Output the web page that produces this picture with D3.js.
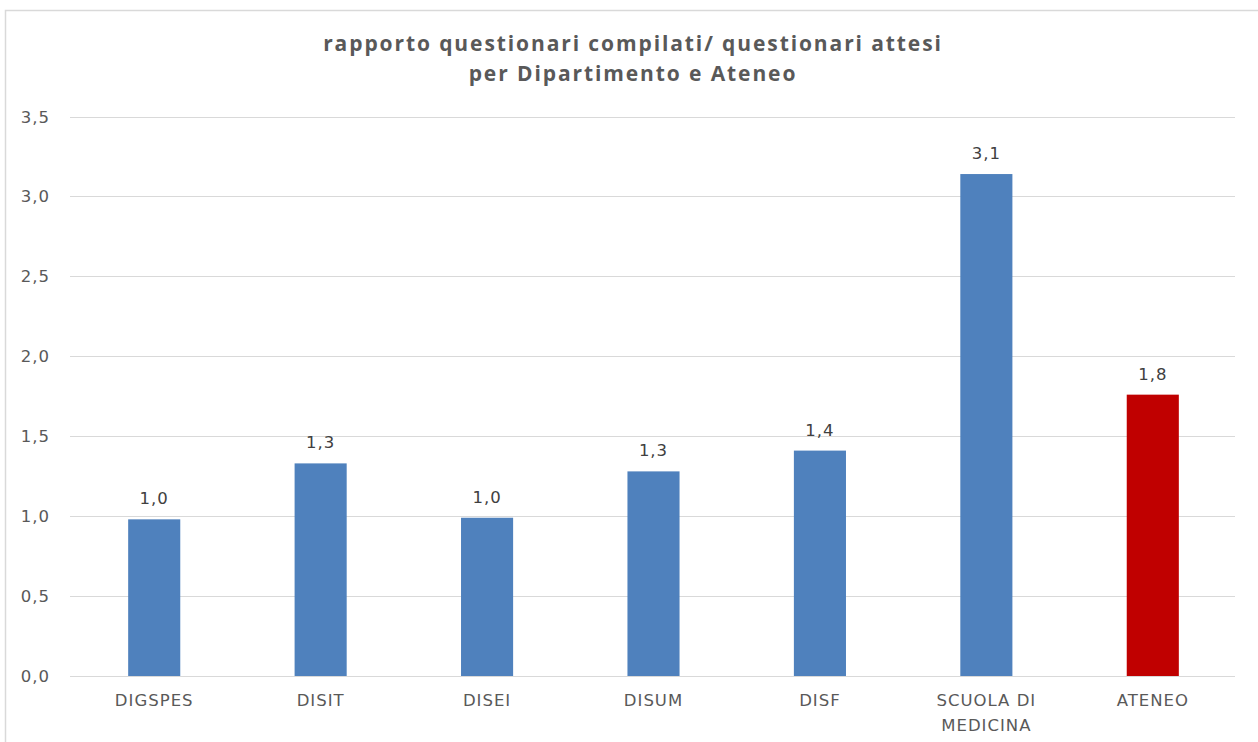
<!DOCTYPE html>
<html><head><meta charset="utf-8">
<script src="https://cdn.jsdelivr.net/npm/d3@7"></script>
<style>body{margin:0;background:#fff}svg{display:block}</style>
</head><body>
<svg id="c" width="1258" height="742"></svg>
<script>
const categories = [["DIGSPES"],["DISIT"],["DISEI"],["DISUM"],["DISF"],["SCUOLA DI","MEDICINA"],["ATENEO"]];
const values = [0.98, 1.33, 0.99, 1.28, 1.41, 3.14, 1.76];
const barColors = ["#4F81BD","#4F81BD","#4F81BD","#4F81BD","#4F81BD","#4F81BD","#C00000"];
const yTicks = [0,0.5,1,1.5,2,2.5,3,3.5];
const titleLines = ["rapporto questionari compilati/ questionari attesi","per Dipartimento e Ateneo"];

const svg = d3.select("#c");
const fmt = v => d3.format(".1f")(v).replace(".", ",");
const FONT = "'DejaVu Sans', 'Noto Sans', sans-serif";
svg.append("rect").attr("x",5.5).attr("y",10.5).attr("width",1260).attr("height",740)
  .attr("fill","#fff").attr("stroke","#d9d9d9").attr("stroke-width",1.5);

const x = d3.scaleBand().domain(categories.map((d,i)=>i)).range([71,1236]).paddingInner(0.687).paddingOuter(0.3435);
const y = d3.scaleLinear().domain([0,3.5]).range([676,116.5]);

const g = svg.append("g");
g.selectAll("line.grid").data(yTicks).enter().append("line")
  .attr("x1",70).attr("x2",1235).attr("y1",d=>Math.round(y(d))+0.5).attr("y2",d=>Math.round(y(d))+0.5)
  .attr("stroke","#d9d9d9").attr("stroke-width",1);
g.selectAll("text.tick").data(yTicks).enter().append("text")
  .attr("x",50).attr("y",d=>y(d)+6)
  .attr("text-anchor","end")
  .attr("font-family",FONT).attr("font-size",16.5).attr("letter-spacing","1px").attr("fill","#595959")
  .text(fmt);

g.selectAll("rect.bar").data(values).enter().append("rect")
  .attr("x",(d,i)=>x(i)).attr("width",x.bandwidth())
  .attr("y",d=>y(d)).attr("height",d=>y(0)-y(d)).attr("fill",(d,i)=>barColors[i]);

g.selectAll("text.lbl").data(values).enter().append("text")
  .attr("x",(d,i)=>x(i)+x.bandwidth()/2).attr("y",d=>y(d)-15).attr("text-anchor","middle")
  .attr("font-family",FONT).attr("font-size",16.5).attr("letter-spacing","1px").attr("fill","#404040")
  .text(fmt);

categories.forEach((lines,i)=>{
  const t = g.append("text").attr("text-anchor","middle")
    .attr("font-family",FONT).attr("font-size",16.5).attr("letter-spacing","1px").attr("fill","#595959");
  lines.forEach((l,j)=>t.append("tspan").attr("x",x(i)+x.bandwidth()/2).attr("y",706+j*24.5).text(l));
});

titleLines.forEach((l,j)=>{
  svg.append("text").attr("x",633).attr("y",51+j*30).attr("text-anchor","middle")
    .attr("font-family","'Open Sans', 'Noto Sans', sans-serif")
    .attr("font-weight","bold").attr("font-size",21).attr("letter-spacing","1.9px").attr("fill","#595959").text(l);
});
</script>
</body></html>
